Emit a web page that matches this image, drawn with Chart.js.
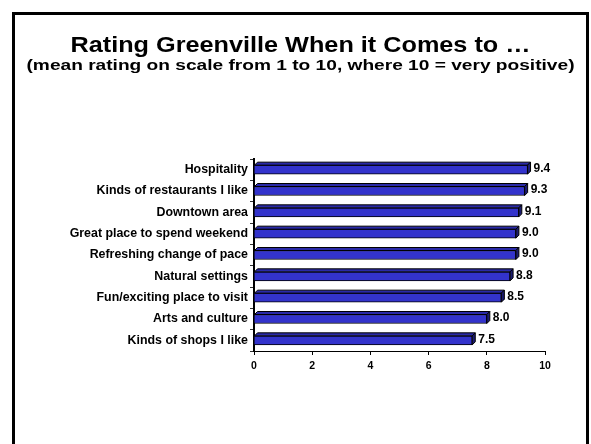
<!DOCTYPE html>
<html><head><meta charset="utf-8">
<script src="https://cdn.jsdelivr.net/npm/chart.js@4"></script>
<style>
html,body{margin:0;padding:0;background:#fff;overflow:hidden;}
#wrap{position:relative;width:591px;height:444px;}
#frame{position:absolute;left:12px;top:12px;width:577px;height:440px;border:3px solid #000;border-bottom:none;box-sizing:border-box;pointer-events:none;}
canvas{position:absolute;left:0;top:0;}
</style></head>
<body>
<div id="wrap"><canvas id="c" width="591" height="444"></canvas><div id="frame"></div></div>
<script>
const titleText = "Rating Greenville When it Comes to …";
const subtitleText = "(mean rating on scale from 1 to 10, where 10 = very positive)";
const categories = ["Hospitality","Kinds of restaurants I like","Downtown area","Great place to spend weekend","Refreshing change of pace","Natural settings","Fun/exciting place to visit","Arts and culture","Kinds of shops I like"];
const ratings = [9.4, 9.3, 9.1, 9.0, 9.0, 8.8, 8.5, 8.0, 7.5];
const xTicks = [0, 2, 4, 6, 8, 10];

const FONT = "'Liberation Sans', Arial, sans-serif";

function stretchText(ctx, text, cx, y, font, targetW) {
  ctx.save();
  ctx.font = font;
  const w = ctx.measureText(text).width;
  ctx.translate(cx, y);
  ctx.scale(targetW / w, 1);
  ctx.textAlign = 'center';
  ctx.textBaseline = 'alphabetic';
  ctx.fillStyle = '#000';
  ctx.fillText(text, 0, 0);
  ctx.restore();
}

const deco = {
  id: 'deco',
  afterDatasetsDraw(chart) {
    const ctx = chart.ctx;
    const meta = chart.getDatasetMeta(0);
    const d = 3;
    meta.data.forEach((bar, i) => {
      const p = bar.getProps(['x','y','base','height'], true);
      const top = p.y - p.height/2, bot = p.y + p.height/2;
      const l = p.base, r = p.x;
      ctx.save();
      ctx.lineWidth = 1;
      ctx.strokeStyle = '#000';
      ctx.beginPath();
      ctx.moveTo(l, top); ctx.lineTo(l + d, top - d); ctx.lineTo(r + d, top - d); ctx.lineTo(r, top); ctx.closePath();
      ctx.fillStyle = '#2a2aa8'; ctx.fill(); ctx.stroke();
      ctx.beginPath();
      ctx.moveTo(r, top); ctx.lineTo(r + d, top - d); ctx.lineTo(r + d, bot - d); ctx.lineTo(r, bot); ctx.closePath();
      ctx.fillStyle = '#1c1c70'; ctx.fill(); ctx.stroke();
      ctx.fillStyle = '#000';
      ctx.font = "bold 12px " + FONT;
      ctx.textAlign = 'left'; ctx.textBaseline = 'middle';
      ctx.fillText(ratings[i].toFixed(1), r + d + 3, p.y - 1);
      ctx.restore();
    });
    stretchText(ctx, titleText, 300.5, 52, "bold 22px " + FONT, 460);
    stretchText(ctx, subtitleText, 300.5, 70, "bold 15px " + FONT, 548);
  }
};

new Chart(document.getElementById('c'), {
  type: 'bar',
  data: {
    labels: categories,
    datasets: [{
      data: ratings,
      backgroundColor: '#3333cc',
      borderColor: '#000',
      borderWidth: 1,
      barThickness: 9
    }]
  },
  options: {
    indexAxis: 'y',
    responsive: false,
    animation: false,
    devicePixelRatio: 1,
    layout: { padding: { left: 0, right: 46, top: 159, bottom: 73 } },
    plugins: { legend: { display: false }, tooltip: { enabled: false }, title: { display: false } },
    scales: {
      x: {
        min: 0, max: 10,
        afterFit(s) { s.height = 20; },
        afterBuildTicks(s) { s.ticks = xTicks.map(v => ({ value: v })); },
        grid: { display: true, drawOnChartArea: false, drawTicks: true, tickLength: 4, color: '#000' },
        border: { display: true, color: '#000', width: 1 },
        ticks: { color: '#000', font: { family: FONT, size: 10.5, weight: 'bold' }, padding: 5 }
      },
      y: {
        afterFit(s) { s.width = 254; },
        grid: { display: true, drawOnChartArea: false, drawTicks: true, tickLength: 4, color: '#333', offset: true },
        border: { display: true, color: '#000', width: 2 },
        ticks: { color: '#000', font: { family: FONT, size: 12.4, weight: 'bold' }, padding: 2, autoSkip: false }
      }
    }
  },
  plugins: [deco]
});
</script>
</body></html>
